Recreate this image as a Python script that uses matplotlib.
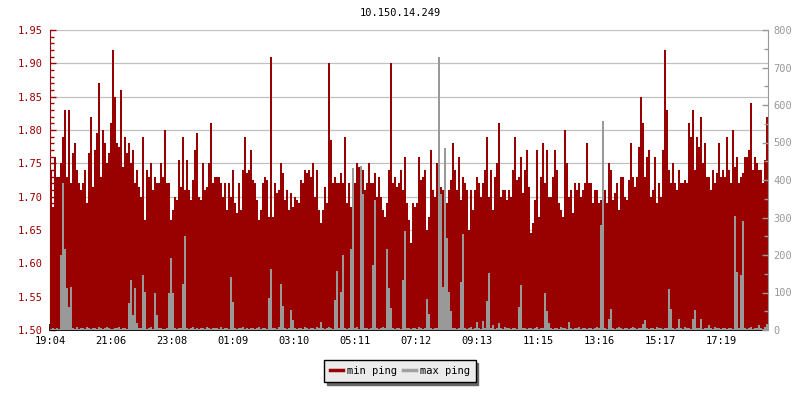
import numpy as np
import matplotlib
matplotlib.use("Agg")
import matplotlib.pyplot as plt
from matplotlib.lines import Line2D
from matplotlib.ticker import MultipleLocator, FormatStrFormatter

# one sample every 4 minutes starting at 19:04
SAMPLE_MINUTES = 4

title = "10.150.14.249"
series_names = ["min ping", "max ping"]
tick_labels = ["19:04", "21:06", "23:08", "01:09", "03:10", "05:11",
               "07:12", "09:13", "11:15", "13:16", "15:17", "17:19"]

# min ping (left axis)
min_ping = [
    1.74, 1.685, 1.76, 1.73, 1.73, 1.75, 1.79, 1.83, 1.73, 1.83,
    1.72, 1.765, 1.78, 1.74, 1.72, 1.71, 1.72, 1.74, 1.69, 1.765,
    1.82, 1.715, 1.77, 1.795, 1.87, 1.73, 1.80, 1.78, 1.75, 1.765,
    1.81, 1.92, 1.85, 1.78, 1.775, 1.86, 1.745, 1.79, 1.765, 1.78,
    1.75, 1.77, 1.72, 1.74, 1.715, 1.70, 1.79, 1.665, 1.74, 1.73,
    1.75, 1.71, 1.73, 1.72, 1.72, 1.75, 1.73, 1.80, 1.72, 1.72,
    1.665, 1.68, 1.70, 1.695, 1.755, 1.715, 1.79, 1.71, 1.755, 1.71,
    1.695, 1.725, 1.77, 1.795, 1.70,
    1.695, 1.75, 1.71, 1.715, 1.75, 1.81, 1.72, 1.73, 1.73, 1.73,
    1.72, 1.70, 1.72, 1.68, 1.72,
    1.70, 1.74, 1.69, 1.675, 1.72, 1.68, 1.74, 1.79, 1.735, 1.74,
    1.77, 1.725, 1.72, 1.695, 1.665, 1.68, 1.72, 1.73, 1.725, 1.67,
    1.91, 1.67, 1.72, 1.705, 1.71, 1.75, 1.735, 1.695, 1.71, 1.68,
    1.705, 1.685, 1.70, 1.695, 1.69, 1.725, 1.72, 1.74, 1.735, 1.74,
    1.73, 1.75, 1.70, 1.74, 1.68, 1.66, 1.68, 1.715, 1.69, 1.90,
    1.785, 1.72, 1.73, 1.72, 1.72, 1.735, 1.72, 1.79, 1.69, 1.72,
    1.685, 1.695, 1.72, 1.75, 1.745, 1.73, 1.74, 1.71, 1.72, 1.75,
    1.72, 1.72, 1.735, 1.70, 1.73, 1.70, 1.68, 1.67, 1.69, 1.74,
    1.90, 1.72, 1.73, 1.715, 1.72, 1.74, 1.71, 1.76, 1.69, 1.665,
    1.63, 1.69, 1.685, 1.69, 1.76, 1.725, 1.73, 1.74, 1.65, 1.67,
    1.77, 1.71, 1.70, 1.75, 1.72, 1.715, 1.71, 1.71, 1.69, 1.71,
    1.725, 1.78, 1.74, 1.71, 1.76, 1.695, 1.73, 1.72, 1.71, 1.65,
    1.71, 1.68, 1.71, 1.73, 1.72, 1.70, 1.72, 1.74, 1.79, 1.70,
    1.74, 1.68, 1.73, 1.75, 1.81, 1.70, 1.71, 1.71,
    1.695, 1.71, 1.70, 1.74, 1.79, 1.725, 1.73, 1.76, 1.705, 1.74,
    1.77, 1.715, 1.645, 1.66, 1.695, 1.77, 1.67, 1.73, 1.78, 1.72,
    1.77, 1.70, 1.70, 1.73, 1.77, 1.74, 1.69, 1.68, 1.67, 1.80,
    1.75, 1.70, 1.71, 1.675, 1.72, 1.71, 1.72, 1.70, 1.71, 1.72,
    1.78, 1.72, 1.72, 1.69, 1.71, 1.71, 1.69, 1.695, 1.725,
    1.71, 1.69, 1.75, 1.74, 1.695, 1.705, 1.72, 1.68, 1.73, 1.73,
    1.70, 1.695, 1.725, 1.78, 1.73, 1.715, 1.73, 1.775, 1.85, 1.81,
    1.73, 1.76, 1.77, 1.70, 1.71, 1.76, 1.69, 1.72, 1.70, 1.77,
    1.92, 1.83, 1.74, 1.72, 1.75, 1.72, 1.71, 1.74, 1.72, 1.72,
    1.725, 1.72, 1.81, 1.79, 1.83, 1.74, 1.79, 1.775,
    1.82, 1.75, 1.78, 1.73, 1.73, 1.71, 1.74, 1.72, 1.735, 1.78,
    1.73, 1.74, 1.73, 1.79, 1.74, 1.72, 1.80, 1.745, 1.76, 1.72,
    1.73, 1.735, 1.76, 1.76, 1.77, 1.84, 1.74, 1.76, 1.75, 1.74,
    1.74, 1.72, 1.755, 1.82,
]

# max ping (right axis)
max_ping = [
    4, 5, 3, 6, 4, 200, 392, 216, 111, 62, 116, 5, 4, 7, 3, 5, 6, 4, 8, 5,
    4, 6, 5, 3, 7, 5, 4, 6, 9, 5, 4, 3, 6, 5, 8, 4, 5, 6, 4, 71,
    133, 40, 111, 20, 5, 6, 147, 102, 4, 5, 7, 4, 100, 40, 5, 6, 4, 3, 5, 98,
    193, 98, 5, 4, 6, 5, 124, 250, 6, 4, 5, 7, 4, 5, 3, 6, 5, 4, 8, 5,
    4, 6, 5, 5, 3, 7, 4, 5, 6, 4, 142, 75, 5, 4, 6, 5, 7, 4, 5, 3,
    5, 6, 4, 5, 7, 4, 6, 5, 4, 86, 164, 6, 5, 4, 7, 124, 65, 5, 4, 6,
    53, 27, 5, 4, 6, 5, 3, 7, 5, 4, 6, 5, 4, 8, 5, 22, 6, 4, 5, 7,
    5, 4, 80, 158, 6, 102, 200, 5, 4, 6, 217, 433, 5, 7, 4, 438, 364, 5, 6, 4,
    5, 173, 347, 6, 4, 5, 7, 5, 217, 111, 58, 6, 4, 5, 6, 4, 133, 265, 5, 6,
    4, 5, 6, 4, 7, 5, 4, 6, 83, 43, 5, 4, 6, 5, 729, 364, 116, 485, 245, 102,
    51, 5, 6, 4, 5, 128, 256, 6, 4, 5, 7, 4, 6, 21, 5, 4, 24, 6, 77, 152,
    5, 13, 4, 6, 20, 5, 4, 7, 5, 6, 4, 5, 6, 4, 62, 120, 5, 6, 4, 5,
    6, 4, 5, 7, 4, 5, 6, 98, 51, 18, 5, 4, 6, 5, 4, 7, 5, 6, 4, 21,
    5, 4, 6, 5, 7, 4, 5, 6, 4, 5, 6, 4, 5, 7, 6, 280, 558, 5, 4, 29,
    56, 6, 4, 5, 7, 5, 4, 6, 5, 4, 6, 8, 5, 4, 6, 5, 16, 27, 5, 4,
    6, 5, 4, 7, 5, 6, 4, 5, 6, 109, 56, 5, 4, 6, 29, 5, 4, 7, 5, 6,
    4, 29, 53, 5, 6, 29, 4, 5, 6, 14, 5, 4, 7, 5, 6, 4, 5, 6, 4, 5,
    6, 4, 304, 155, 5, 147, 291, 6, 4, 5, 7, 4, 6, 5, 13, 6, 4, 9, 16,
]

RED = "#990000"
GRAY = "#999999"
FONT = "DejaVu Sans Mono"
FS = 7.5

plt.rcParams["font.family"] = FONT
plt.rcParams["font.size"] = FS


def main() -> None:
    edges = np.arange(len(min_ping) + 1) * SAMPLE_MINUTES
    tick_pos = np.arange(len(tick_labels)) * 122

    fig = plt.figure(figsize=(8, 4), dpi=100)
    ax = fig.add_axes([50 / 800, 70 / 400, 718 / 800, 300 / 400])
    ax2 = ax.twinx()

    # min ping as a filled step area from the bottom
    ax.stairs(min_ping, edges, baseline=1.5, fill=True, color=RED, linewidth=0)
    ax.set_ylim(1.5, 1.95)
    ax.set_xlim(edges[0], edges[-1])
    ax.set_axisbelow(True)
    ax.grid(axis="y", color="#c0c0c0", linewidth=0.9)

    # max ping on the right axis, drawn over the red area
    ax2.stairs(max_ping, edges, baseline=0, fill=True, color=GRAY, linewidth=0)
    ax2.set_ylim(0, 800)

    # left axis
    ax.yaxis.set_major_locator(MultipleLocator(0.05))
    ax.yaxis.set_minor_locator(MultipleLocator(0.01))
    ax.yaxis.set_major_formatter(FormatStrFormatter("%.2f"))
    ax.tick_params(axis="y", which="both", direction="in", colors=RED, pad=5)
    ax.tick_params(axis="y", which="major", length=4, width=1)
    ax.tick_params(axis="y", which="minor", length=3, width=1)

    # right axis
    ax2.yaxis.set_major_locator(MultipleLocator(100))
    ax2.yaxis.set_minor_locator(MultipleLocator(50))
    ax2.tick_params(axis="y", which="both", direction="in", colors=GRAY, pad=4)
    ax2.tick_params(axis="y", which="major", length=4, width=1)
    ax2.tick_params(axis="y", which="minor", length=3, width=1)

    # time axis
    ax.set_xticks(tick_pos)
    ax.set_xticklabels(tick_labels)
    ax.tick_params(axis="x", direction="in", length=4, width=1.2, colors="black", pad=4)

    for a in (ax, ax2):
        a.spines["top"].set_visible(False)
    ax.spines["right"].set_visible(False)
    ax2.spines["left"].set_visible(False)
    ax2.spines["bottom"].set_visible(False)
    ax.spines["left"].set_color(RED)
    ax.spines["bottom"].set_color("black")
    ax.spines["bottom"].set_linewidth(1.3)
    ax2.spines["right"].set_color(GRAY)

    fig.text(0.5, 1 - 13 / 400, title, ha="center", va="center", color="black")

    handles = [Line2D([], [], color=RED, linewidth=2.5),
               Line2D([], [], color="#a0a0a0", linewidth=2.5)]
    leg = fig.legend(handles, series_names, loc="center", ncol=2,
                     bbox_to_anchor=(0.5, 1 - 371 / 400),
                     frameon=True, fancybox=False, framealpha=1,
                     facecolor="#ebebeb", edgecolor="black",
                     shadow={"color": "#666666", "alpha": 1},
                     handlelength=1.2, handletextpad=0.4, columnspacing=0.6,
                     borderpad=0.55)
    leg.get_frame().set_linewidth(1)

    fig.savefig("out.png", dpi=100)


if __name__ == "__main__":
    main()
